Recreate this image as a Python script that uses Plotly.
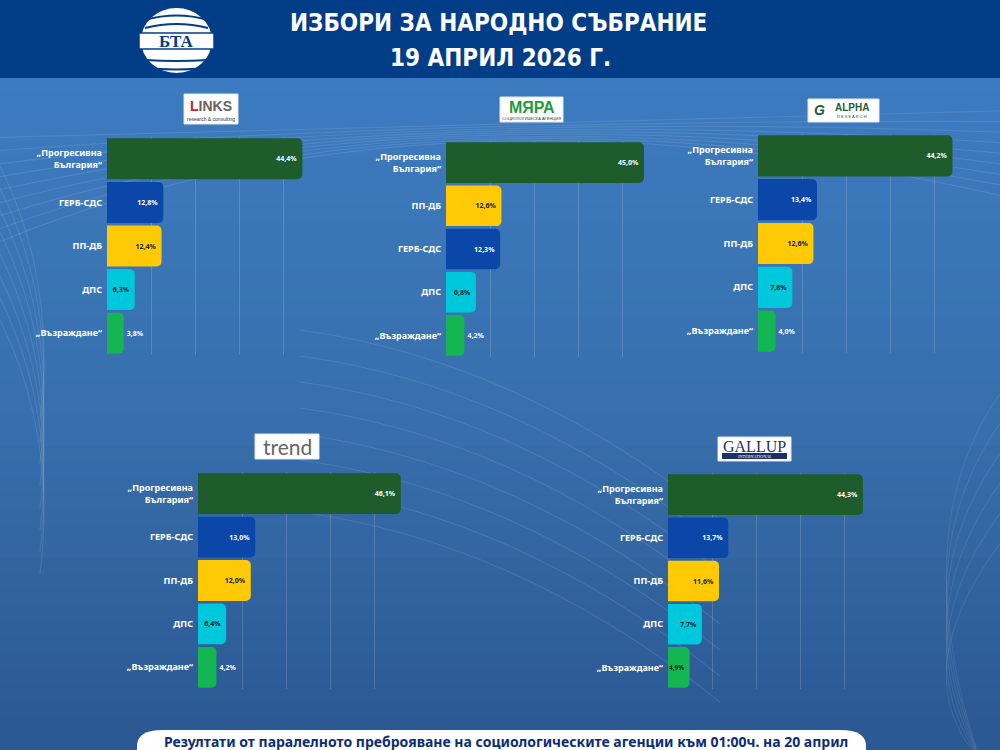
import plotly.graph_objects as go

# ---------------- data ----------------
PROG = "„Прогресивна България“"
GERB = "ГЕРБ-СДС"
PPDB = "ПП-ДБ"
DPS = "ДПС"
VAZ = "„Възраждане“"

agencies = ["LINKS", "МЯРА", "ALPHA RESEARCH", "trend", "GALLUP INTERNATIONAL"]

links_parties = [PROG, GERB, PPDB, DPS, VAZ]
links_values = [44.4, 12.8, 12.4, 6.3, 3.8]

myara_parties = [PROG, PPDB, GERB, DPS, VAZ]
myara_values = [45.0, 12.6, 12.3, 6.8, 4.2]

alpha_parties = [PROG, GERB, PPDB, DPS, VAZ]
alpha_values = [44.2, 13.4, 12.6, 7.8, 4.0]

trend_parties = [PROG, GERB, PPDB, DPS, VAZ]
trend_values = [46.1, 13.0, 12.0, 6.4, 4.2]

gallup_parties = [PROG, GERB, PPDB, DPS, VAZ]
gallup_values = [44.3, 13.7, 11.6, 7.7, 4.9]

title_lines = ["ИЗБОРИ ЗА НАРОДНО СЪБРАНИЕ", "19 АПРИЛ 2026 Г."]
footer_text = "Резултати от паралелното преброяване на социологическите агенции към 01:00ч. на 20 април"

# ---------------- style ----------------
W, H = 1000, 750
def X(px): return px / W
def Y(py): return 1 - py / H

party_colors = {PROG: "#1e5d2b", GERB: "#0a47a8", PPDB: "#ffc905", DPS: "#00c8dc", VAZ: "#14b553"}
dark_text = {PPDB, DPS}

# panel pixel boxes: x0, x1, y_top, y_bottom
panels = [
    (links_parties, links_values, (107, 327, 137, 355)),
    (myara_parties, myara_values, (446, 666, 141, 357)),
    (alpha_parties, alpha_values, (758, 978, 134, 353)),
    (trend_parties, trend_values, (198, 418, 472, 689)),
    (gallup_parties, gallup_values, (668, 888, 473, 689)),
]

fig = go.Figure()
layout = dict(
    width=W, height=H, margin=dict(l=0, r=0, t=0, b=0),
    paper_bgcolor="#336aa8", plot_bgcolor="rgba(0,0,0,0)",
    showlegend=False, bargap=0.06,
)

def fmt(v):
    return ("%.1f" % v).replace(".", ",") + "%"

for i, (parties, values, box) in enumerate(panels, start=1):
    x0, x1, yt, yb = box
    xa = "x" if i == 1 else "x%d" % i
    ya = "y" if i == 1 else "y%d" % i
    positions, tcolors = [], []
    for p, v in zip(parties, values):
        inside = v * 4.4 >= 21
        positions.append("inside" if inside else "outside")
        if not inside:
            tcolors.append("#ffffff")
        elif p in dark_text or p == VAZ:
            tcolors.append("#1a2030")
        else:
            tcolors.append("#ffffff")
    fig.add_trace(go.Bar(
        x=values, y=parties, orientation="h", xaxis=xa, yaxis=ya,
        marker=dict(color=[party_colors[p] for p in parties], line=dict(width=0), cornerradius=5),
        text=[fmt(v) for v in values], textposition=positions, textangle=0,
        insidetextanchor="end", constraintext="none", cliponaxis=False,
        textfont=dict(family="Noto Sans", size=7, color=tcolors, weight="bold"),
        hoverinfo="skip",
    ))
    xkey = "xaxis" if i == 1 else "xaxis%d" % i
    ykey = "yaxis" if i == 1 else "yaxis%d" % i
    layout[xkey] = dict(
        domain=[X(x0), X(x1)], anchor=ya, range=[0, 50], tickvals=[10, 20, 30, 40],
        showgrid=True, gridcolor="rgba(255,255,255,0.16)", gridwidth=1,
        showticklabels=False, zeroline=False, showline=False, fixedrange=True,
    )
    layout[ykey] = dict(
        domain=[Y(yb), Y(yt)], anchor=xa, type="category",
        categoryorder="array", categoryarray=parties, autorange="reversed",
        tickvals=parties, ticktext=["<b>%s</b>" % p.replace("Прогресивна ", "Прогресивна<br>") for p in parties],
        tickfont=dict(family="Noto Sans", size=9, color="#ffffff"),
        ticks="", ticklabelstandoff=4, showgrid=False, zeroline=False, showline=False, fixedrange=True,
    )

shapes = []
# background gradient (bands)
top_c = (0x3d, 0x7b, 0xc0)
mid_c = (0x38, 0x70, 0xad)
bot_c = (0x2c, 0x58, 0x93)
n = 42
for k in range(n):
    t = k / (n - 1)
    if t < 0.5:
        a, b, s = top_c, mid_c, t / 0.5
    else:
        a, b, s = mid_c, bot_c, (t - 0.5) / 0.5
    c = tuple(int(a[j] + (b[j] - a[j]) * s) for j in range(3))
    y0p = 78 + (750 - 78) * k / n
    y1p = 78 + (750 - 78) * (k + 1) / n + 1
    shapes.append(dict(type="rect", xref="paper", yref="paper", x0=0, x1=1, y0=Y(y1p), y1=Y(y0p),
                       fillcolor="rgb(%d,%d,%d)" % c, line=dict(width=0), layer="below"))

# decorative faint curves
def qpath(p0, c, p1):
    return "M %f,%f Q %f,%f %f,%f" % (X(p0[0]), Y(p0[1]), X(c[0]), Y(c[1]), X(p1[0]), Y(p1[1]))

for k in range(9):
    off = k * 14
    shapes.append(dict(type="path", xref="paper", yref="paper", layer="below",
                       path=qpath((-20, 250 - off), (420, 60 + off * 0.6), (1020, 200 - off * 0.8)),
                       line=dict(color="rgba(255,255,255,0.10)", width=1.2)))
for k in range(8):
    off = k * 22
    shapes.append(dict(type="path", xref="paper", yref="paper", layer="below",
                       path=qpath((-20, 130 + off), (60, 260 + off), (40, 420 + off)),
                       line=dict(color="rgba(255,255,255,0.10)", width=1.2)))
for k in range(8):
    off = k * 26
    shapes.append(dict(type="path", xref="paper", yref="paper", layer="below",
                       path=qpath((300, 330 + off), (520, 360 + off), (720, 520 + off)),
                       line=dict(color="rgba(255,255,255,0.10)", width=1.2)))
for k in range(6):
    off = k * 30
    shapes.append(dict(type="path", xref="paper", yref="paper", layer="below",
                       path=qpath((1010, 380 + off), (900, 520 + off), (980, 760)),
                       line=dict(color="rgba(255,255,255,0.08)", width=1.2)))

# header band
shapes.append(dict(type="rect", xref="paper", yref="paper", x0=0, x1=1, y0=Y(78), y1=1,
                   fillcolor="#023e87", line=dict(width=0), layer="below"))

# BTA logo
shapes.append(dict(type="circle", xref="paper", yref="paper", x0=X(141), x1=X(212), y0=Y(73), y1=Y(8),
                   fillcolor="#ffffff", line=dict(width=0)))
for yy, bend in [(17, -6), (25, -5), (57, 5), (65, 6)]:
    shapes.append(dict(type="path", xref="paper", yref="paper",
                       path=qpath((145, yy + 3), (176.5, yy + bend), (208, yy + 3)),
                       line=dict(color="#023e87", width=2)))
shapes.append(dict(type="rect", xref="paper", yref="paper", x0=X(139), x1=X(214), y0=Y(49), y1=Y(33),
                   fillcolor="#ffffff", line=dict(color="#023e87", width=1.5)))

# agency logo boxes
logo_boxes = [(184, 238, 94, 124), (500, 563, 97, 122), (808, 879, 99, 122), (255, 319, 434, 459), (718, 791, 437, 461)]
for (a, b, c, d) in logo_boxes:
    shapes.append(dict(type="rect", xref="paper", yref="paper", x0=X(a), x1=X(b), y0=Y(d), y1=Y(c),
                       fillcolor="#ffffff", line=dict(color="#dfe6ee", width=1)))
# gallup band
shapes.append(dict(type="rect", xref="paper", yref="paper", x0=X(722), x1=X(787), y0=Y(459), y1=Y(453),
                   fillcolor="#1c2f66", line=dict(width=0)))

# footer pill
r = 16
fx0, fx1, fy0, fy1 = 137, 866, 730, 768
pill = "M %f,%f L %f,%f Q %f,%f %f,%f L %f,%f Q %f,%f %f,%f L %f,%f Z" % (
    X(fx0), Y(fy1), X(fx0), Y(fy0 + r), X(fx0), Y(fy0), X(fx0 + r * 1.6), Y(fy0),
    X(fx1 - r * 1.6), Y(fy0), X(fx1), Y(fy0), X(fx1), Y(fy0 + r), X(fx1), Y(fy1))
shapes.append(dict(type="path", xref="paper", yref="paper", path=pill,
                   fillcolor="#ffffff", line=dict(width=0)))

layout["shapes"] = shapes

def ann(x, y, text, size, color, family="Noto Sans", **kw):
    d = dict(xref="paper", yref="paper", x=X(x), y=Y(y), text=text, showarrow=False,
             xanchor="center", yanchor="middle", font=dict(family=family, size=size, color=color))
    d.update(kw)
    return d

cond = "DejaVu Sans Condensed, Roboto Condensed, Roboto, sans-serif"
annotations = [
    ann(498, 23, "<b>%s</b>" % title_lines[0], 24, "#ffffff", cond),
    ann(500, 58, "<b>%s</b>" % title_lines[1], 24, "#ffffff", cond),
    ann(176.5, 41.5, "<b>БТА</b>", 17, "#023e87", "Liberation Serif, DejaVu Serif, serif"),
    # LINKS
    ann(211, 106, "<b><span style='color:#c8202a'>L</span>INKS</b>", 14, "#6a625a", "Liberation Sans, Arial"),
    ann(211, 118.5, "research & consulting", 5, "#333333", "Liberation Sans, Arial"),
    # МЯРА
    ann(531.5, 107, "<b>МЯРА</b>", 16, "#1f9b3e", "Liberation Sans, Arial"),
    ann(531.5, 118.5, "СОЦИОЛОГИЧЕСКА АГЕНЦИЯ", 4, "#333333", "Liberation Sans, Arial"),
    # ALPHA
    ann(819, 110.5, "<b><i>G</i></b>", 14, "#1f5a3a", "Liberation Sans, Arial"),
    ann(852, 107, "<b>ALPHA</b>", 10, "#1f5a3a", "Liberation Sans, Arial"),
    ann(852, 116.5, "R E S E A R C H", 4, "#1f5a3a", "Liberation Sans, Arial"),
    # trend
    ann(287, 446, "trend", 21, "#666666", "Lato, Liberation Sans, Arial"),
    # GALLUP
    ann(754.5, 446, "GALLUP", 16, "#1c2f66", "Liberation Serif, DejaVu Serif, serif"),
    ann(754.5, 456.3, "<i>INTERNATIONAL</i>", 4.5, "#ffffff", "Liberation Serif, DejaVu Serif, serif"),
    # footer
    ann(506, 741, "<b>%s</b>" % footer_text, 14, "#0b2d78", "Noto Sans, Open Sans, sans-serif"),
]
layout["annotations"] = annotations

fig.update_layout(**layout)
fig.write_html("out.html")
